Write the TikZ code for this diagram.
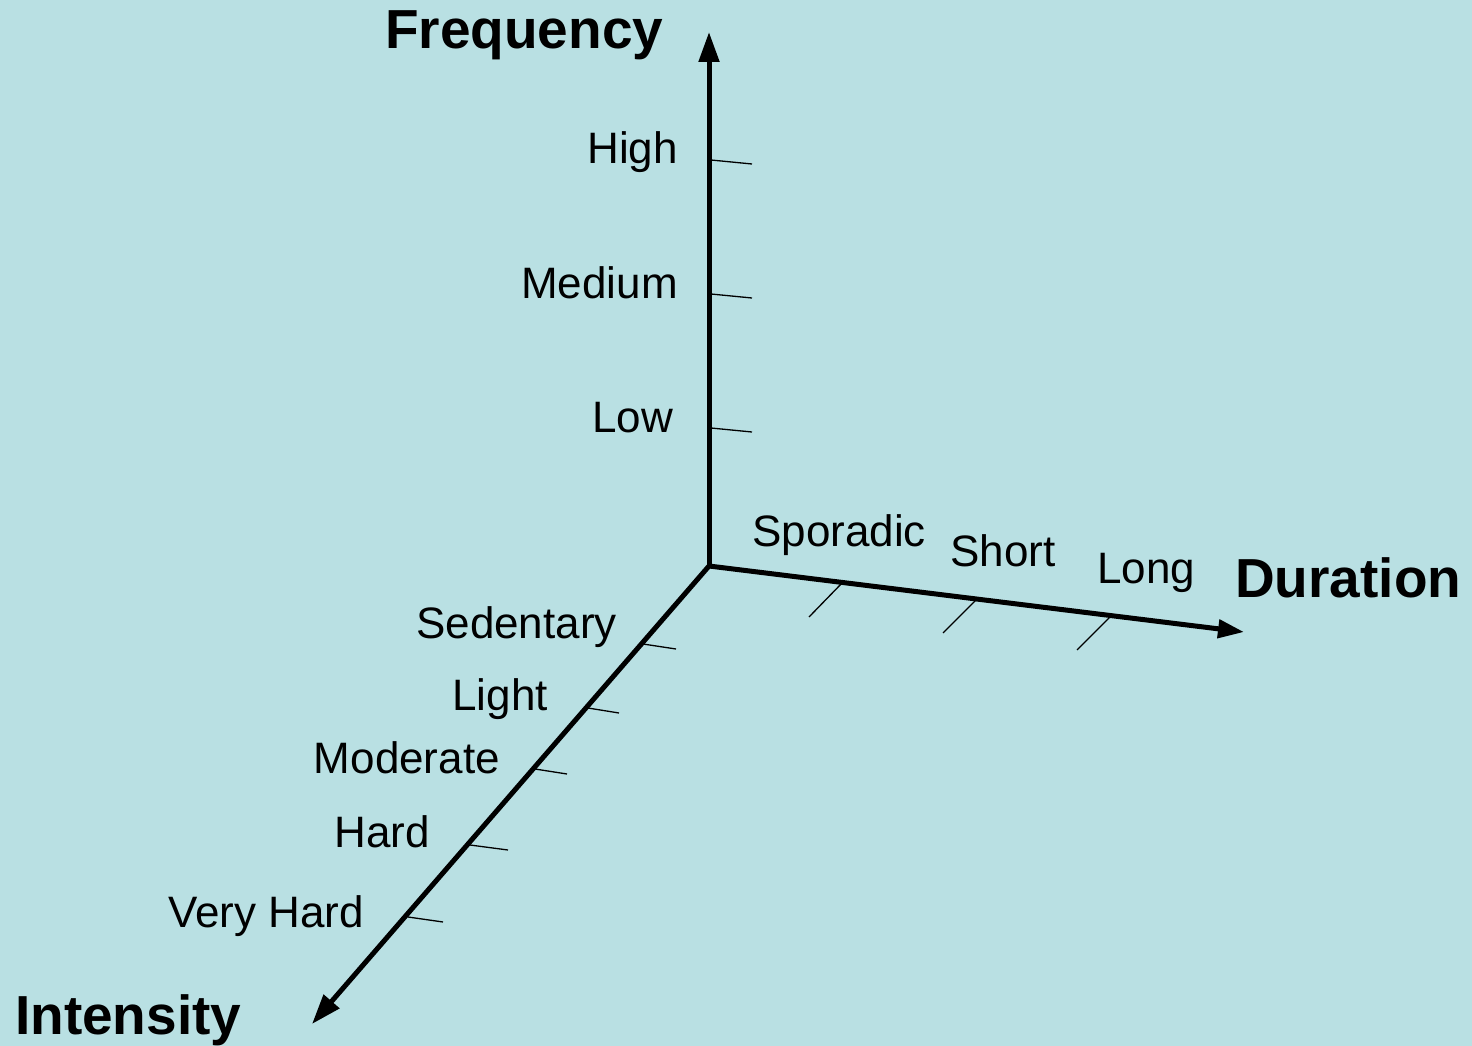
\documentclass[tikz,border=0pt]{standalone}
\usepackage{fontspec}
\setmainfont{Liberation Sans}
\usetikzlibrary{arrows.meta}
\definecolor{bgblue}{RGB}{185,224,227}
\begin{document}
\begin{tikzpicture}[x=1pt,y=-1pt,
  axisline/.style={line width=5pt,line cap=butt},
  bighead/.style={-{Triangle[length=30pt,width=20pt]}},
  midhead/.style={-{Triangle[length=26pt,width=18pt]}},
  ticksty/.style={line width=1.3pt},
  lbl/.style={inner sep=0pt,anchor=base east,font=\fontsize{44}{48}\selectfont},
  axlbl/.style={inner sep=0pt,anchor=base west,font=\fontsize{55}{60}\selectfont\bfseries}]
\fill[bgblue] (0,0) rectangle (1472,1046);
\useasboundingbox (0,0) rectangle (1472,1046);

\coordinate (O) at (709,566);
\coordinate (Ftip) at (709,32);
\coordinate (Dtip) at (1244,632);
\coordinate (Itip) at (312,1024);

\draw[axisline,bighead] (O) -- (Ftip);
\draw[axisline,midhead] (O) -- (Dtip);
\draw[axisline,bighead] (O) -- (Itip);

% frequency ticks
\coordinate (fh1) at (711,160); \coordinate (fh2) at (752,164);
\coordinate (fm1) at (711,294); \coordinate (fm2) at (752,298);
\coordinate (fl1) at (711,428); \coordinate (fl2) at (752,432);
\draw[ticksty] (fh1) -- (fh2);
\draw[ticksty] (fm1) -- (fm2);
\draw[ticksty] (fl1) -- (fl2);

% duration ticks
\coordinate (ds1) at (843,582); \coordinate (ds2) at (809,617);
\coordinate (dh1) at (977,599); \coordinate (dh2) at (943,633);
\coordinate (dl1) at (1111,616); \coordinate (dl2) at (1077,650);
\draw[ticksty] (ds1) -- (ds2);
\draw[ticksty] (dh1) -- (dh2);
\draw[ticksty] (dl1) -- (dl2);

% intensity ticks
\coordinate (is1) at (643,644); \coordinate (is2) at (676,649);
\coordinate (il1) at (588,708); \coordinate (il2) at (619,713);
\coordinate (im1) at (535,769); \coordinate (im2) at (567,774);
\coordinate (ih1) at (470,845); \coordinate (ih2) at (508,850);
\coordinate (iv1) at (408,917); \coordinate (iv2) at (443,922);
\draw[ticksty] (is1) -- (is2);
\draw[ticksty] (il1) -- (il2);
\draw[ticksty] (im1) -- (im2);
\draw[ticksty] (ih1) -- (ih2);
\draw[ticksty] (iv1) -- (iv2);

% axis labels
\node[axlbl] (freq) at (385,49) {Frequency};
\node[axlbl] (dur) at (1235,597) {Duration};
\node[axlbl] (int) at (15,1034) {Intensity};

% frequency labels
\node[lbl] (high) at (678,163) {High};
\node[lbl] (medium) at (678,298) {Medium};
\node[lbl] (low) at (673,432) {Low};

% duration labels
\node[lbl,anchor=base west] (sporadic) at (752,546) {Sporadic};
\node[lbl,anchor=base west] (short) at (950,566) {Short};
\node[lbl,anchor=base west] (long) at (1097,583) {Long};

% intensity labels
\node[lbl] (sedentary) at (617,638) {Sedentary};
\node[lbl] (light) at (548,710) {Light};
\node[lbl] (moderate) at (500,773) {Moderate};
\node[lbl] (hard) at (430,847) {Hard};
\node[lbl] (veryhard) at (364,927) {Very Hard};
\end{tikzpicture}
\end{document}
